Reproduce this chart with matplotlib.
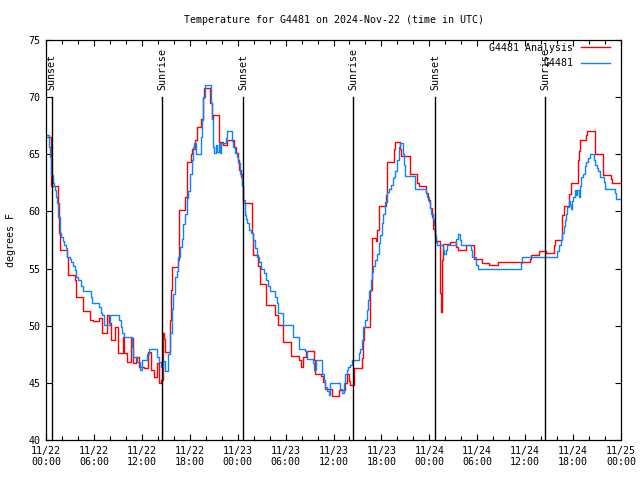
import numpy as np
import pandas as pd
import matplotlib
matplotlib.use("Agg")
import matplotlib.pyplot as plt
import matplotlib.dates as mdates

# hours since 2024-11-22 00:00 UTC, temperature in degrees F (step data)
red_hours = [0.0, 0.6, 0.67, 1.5, 1.6, 1.75, 2.6, 2.75, 3.59, 3.71, 4.6, 5.55, 5.93, 6.64, 7.05,
             7.6, 7.85, 8.1, 8.6, 9.0, 9.6, 9.8, 10.2, 10.7, 10.94, 11.25, 11.65, 12.27, 12.81,
             13.19, 13.52, 13.86, 14.15, 14.4, 14.65, 14.8, 14.95, 15.53, 15.65, 15.8, 16.5,
             16.7, 17.45, 17.7, 18.15, 18.3, 18.6, 18.85, 19.4, 19.62, 19.79, 20.54, 20.74,
             20.95, 21.62, 22.12, 22.62, 23.5, 23.79, 24.0, 24.21, 24.38, 24.5, 24.71, 25.75,
             25.88, 26.59, 26.8, 27.6, 28.7, 29.0, 29.72, 30.68, 31.64, 31.9, 32.22, 32.5,
             33.52, 33.73, 34.44, 34.73, 34.98, 35.81, 36.65, 37.44, 37.65, 37.9, 38.07, 38.61,
             39.57, 39.74, 39.86, 40.61, 40.82, 41.3, 41.49, 41.74, 42.57, 42.7, 43.6, 43.74,
             44.3, 44.5, 45.55, 46.5, 46.7, 47.6, 47.8, 48.1, 48.3, 48.5, 48.7, 48.84, 49.29,
             49.38, 49.5, 49.59, 49.71, 50.63, 51.38, 51.6, 52.6, 53.6, 54.6, 55.5, 56.6,
             57.85, 60.56, 60.77, 61.7, 62.6, 63.55, 63.7, 64.6, 64.8, 65.5, 65.78, 66.62,
             66.7, 66.83, 67.6, 67.79, 68.71, 68.79, 69.7, 69.79, 70.7, 70.88, 72.0]
red_temp = [66.5, 63.5, 62.2, 60.7, 58.1, 56.6, 56.0, 54.4, 54.0, 52.5, 51.3, 50.5, 50.4, 50.65, 49.33,
            50.94, 50.2, 48.75, 49.9, 47.58, 49.04, 47.6, 46.85, 48.9, 46.7, 47.3, 46.4, 46.27, 47.73,
            46.1, 45.54, 46.7, 44.96, 45.25, 49.4, 48.8, 47.7, 50.5, 53.1, 55.1, 55.75,
            60.1, 61.3, 64.35, 65.0, 65.5, 66.25, 67.4, 68.1, 69.9, 70.8, 69.5, 68.1,
            68.4, 66.1, 65.8, 66.25, 65.6, 65.1, 64.5, 63.6, 63.0, 62.3, 60.7, 58.1,
            56.2, 55.2, 53.65, 51.8, 50.9, 50.1, 48.6, 47.35, 47.0, 46.4, 47.3, 47.8,
            47.0, 45.8, 45.6, 45.1, 44.5, 43.85, 44.4, 45.0, 45.8, 45.2, 44.8, 46.3,
            47.2, 48.75, 49.85, 53.1, 57.7, 57.4, 58.4, 60.5, 61.4, 64.3, 65.5, 66.05,
            65.5, 64.85, 63.3, 62.5, 62.2, 61.6, 61.0, 60.3, 59.5, 58.5, 57.7, 57.4, 56.0,
            52.85, 51.2, 55.75, 57.15, 57.3, 56.9, 56.6, 57.1, 55.8, 55.45, 55.3, 55.6,
            55.55, 55.8, 56.2, 56.5, 56.35, 57.1, 57.5, 59.7, 60.45, 61.5, 62.45, 64.5,
            65.3, 66.25, 66.7, 67.0, 66.2, 65.0, 64.0, 63.15, 62.8, 62.45, 62.45]

blue_hours = [0.0, 0.4, 0.5, 0.58, 0.67, 0.84, 1.0, 1.13, 1.29, 1.42, 1.54, 1.71, 1.92, 2.13, 2.25,
              2.46, 2.67, 2.96, 3.17, 3.42, 3.59, 3.8, 4.05, 4.34, 4.68, 5.59, 5.76, 6.68, 6.85,
              7.05, 7.26, 8.01, 9.14, 9.35, 9.56, 9.77, 10.81, 10.94, 11.35, 11.73, 12.06, 12.7,
              12.9, 13.94, 14.15, 14.36, 14.6, 14.9, 15.32, 15.53, 15.73, 15.94, 16.15, 16.36,
              16.57, 16.78, 16.99, 17.2, 17.41, 17.61, 17.82, 18.03, 18.24, 18.45, 18.57, 18.78,
              19.37, 19.58, 19.7, 19.91, 20.62, 20.74, 20.95, 21.08, 21.29, 21.46, 21.62, 21.79,
              21.91, 22.54, 22.62, 23.25, 23.38, 23.67, 23.88, 24.09, 24.29, 24.5, 24.71, 24.92,
              25.04, 25.21, 25.46, 25.63, 25.88, 26.17, 26.46, 26.71, 26.97, 27.26, 27.51, 27.8,
              28.0, 28.67, 28.88, 29.01, 29.72, 30.97, 31.64, 32.47, 32.64, 33.48, 33.6, 33.81,
              34.56, 34.77, 34.98, 35.19, 35.39, 35.6, 36.86, 37.06, 37.27, 37.44, 37.65, 37.86,
              38.07, 38.32, 39.15, 39.32, 39.57, 39.74, 39.99, 40.15, 40.32, 40.49, 40.65, 40.82,
              40.99, 41.24, 41.41, 41.66, 41.82, 42.07, 42.24, 42.49, 42.74, 42.99, 43.2, 43.41,
              43.53, 43.74, 43.95, 44.16, 44.37, 44.66, 44.79, 44.99, 46.25, 47.63, 47.75, 47.92,
              48.13, 48.25, 48.42, 48.55, 48.67, 48.84, 48.96, 49.71, 49.88, 50.09, 50.21, 51.38,
              51.55, 51.8, 51.97, 53.22, 53.35, 53.89, 54.06, 59.52, 59.65, 64.03, 64.2, 64.53,
              64.66, 64.82, 64.95, 65.16, 65.28, 65.45, 65.58, 65.7, 65.87, 66.03, 66.2, 66.41,
              66.54, 66.7, 66.83, 67.04, 67.25, 67.45, 67.66, 67.87, 68.08, 68.62, 68.79, 68.96,
              69.12, 69.33, 69.87, 70.04, 71.3, 71.42, 72.0]
blue_temp = [66.7, 65.65, 64.8, 63.9, 63.2, 62.45, 62.2, 61.9, 61.3, 60.7, 59.55, 58.1, 57.8, 57.4, 57.1,
             56.8, 56.0, 55.85, 55.6, 55.2, 54.9, 54.3, 54.0, 53.5, 53.0, 52.55, 52.0, 51.6, 51.1,
             50.9, 50.06, 50.94, 50.5, 49.9, 49.4, 48.98, 48.1, 47.23, 46.8, 46.1, 47.0, 47.5,
             48.0, 47.3, 46.8, 46.4, 46.9, 46.0, 47.5, 49.4, 51.5, 52.8, 54.3, 54.8,
             56.0, 56.9, 57.6, 58.9, 59.8, 61.15, 61.8, 63.3, 64.5, 65.65, 66.0, 65.0,
             66.5, 68.0, 70.0, 71.06, 69.5, 68.1, 65.65, 65.1, 65.8, 65.2, 66.0, 65.1,
             66.0, 66.4, 67.0, 66.2, 65.65, 65.1, 64.8, 64.2, 63.3, 62.2, 61.0, 59.7,
             59.3, 58.96, 58.4, 58.1, 57.5, 56.8, 56.0, 55.6, 55.0, 54.6, 54.0, 53.5,
             53.0, 52.5, 51.96, 51.1, 50.06, 49.04, 48.0, 47.8, 47.05, 46.7, 46.1, 47.0,
             45.8, 45.25, 44.66, 44.3, 43.94, 44.96, 44.5, 44.1, 44.96, 45.8, 46.1, 46.36,
             46.6, 47.0, 47.6, 48.0, 48.75, 49.9, 50.5, 51.4, 52.25, 53.0, 54.0, 54.7,
             55.2, 55.75, 56.3, 57.2, 57.9, 58.96, 59.8, 60.85, 61.7, 62.0, 62.3, 62.9,
             63.0, 63.5, 64.5, 65.65, 66.0, 65.0, 64.06, 63.1, 62.0, 61.6, 61.3, 60.8,
             60.3, 59.8, 59.3, 58.8, 57.9, 57.35, 57.06, 56.6, 56.3, 56.6, 57.06, 57.6,
             58.0, 57.5, 57.06, 56.6, 56.0, 55.3, 55.0, 55.5, 56.0, 56.5, 57.06, 57.5,
             58.1, 58.7, 59.25, 59.8, 60.4, 60.9, 60.6, 60.2, 60.9, 61.3, 61.9, 61.4,
             61.9, 61.3, 62.2, 63.0, 63.3, 63.98, 64.3, 64.65, 65.0, 64.5, 64.06, 63.8,
             63.5, 63.0, 62.6, 62.0, 61.6, 61.06, 61.06]

sun_hours = [0.72, 14.53, 24.67, 38.47, 48.72, 62.5]
sun_labels = ["Sunset", "Sunrise", "Sunset", "Sunrise", "Sunset", "Sunrise"]

BASE = pd.Timestamp("2024-11-22 00:00")
t = lambda h: BASE + pd.to_timedelta(np.asarray(h), unit="h")

plt.rcParams.update({"font.family": "DejaVu Sans Mono", "font.size": 7.2})

fig = plt.figure(figsize=(6.4, 4.8), dpi=100)
ax = fig.add_axes([46 / 640, 1 - 440 / 480, 575 / 640, 400 / 480])

ax.plot(t(red_hours), red_temp, drawstyle="steps-post", color="#ff0000", lw=1.0, label="G4481 Analysis")
ax.plot(t(blue_hours), blue_temp, drawstyle="steps-post", color="#0a84ff", lw=1.0, label="G4481")

for h, lab in zip(sun_hours, sun_labels):
    ax.plot([t(h), t(h)], [40, 70], color="black", lw=1.0)
    ax.text(t(h), 70.6, lab, rotation=90, ha="center", va="bottom", fontsize=7.2)

ax.set_xlim(t(0), t(72))
ax.set_ylim(40, 75)
ax.set_yticks(range(40, 80, 5))
ax.xaxis.set_major_locator(mdates.HourLocator(byhour=range(0, 24, 6)))
ax.xaxis.set_minor_locator(mdates.HourLocator(byhour=range(0, 24, 2)))
ax.xaxis.set_major_formatter(mdates.DateFormatter("%m/%d\n%H:%M"))
ax.tick_params(which="both", direction="in", top=True, right=True, width=0.8)
ax.tick_params(which="major", length=4.5, pad=4)
ax.tick_params(which="minor", length=3)
for s in ax.spines.values():
    s.set_linewidth(0.9)

ax.set_ylabel("degrees F", labelpad=9)
ax.set_title("Temperature for G4481 on 2024-Nov-22 (time in UTC)", fontsize=7.2, pad=12)
ax.legend(loc="upper right", bbox_to_anchor=(1 - 11 / 575, 1 - 3 / 400), frameon=False,
          markerfirst=False, handlelength=2.9, handletextpad=0.8, labelspacing=0.55,
          borderaxespad=0.0, borderpad=0.0)

fig.savefig("out.png", dpi=100, facecolor="white")
